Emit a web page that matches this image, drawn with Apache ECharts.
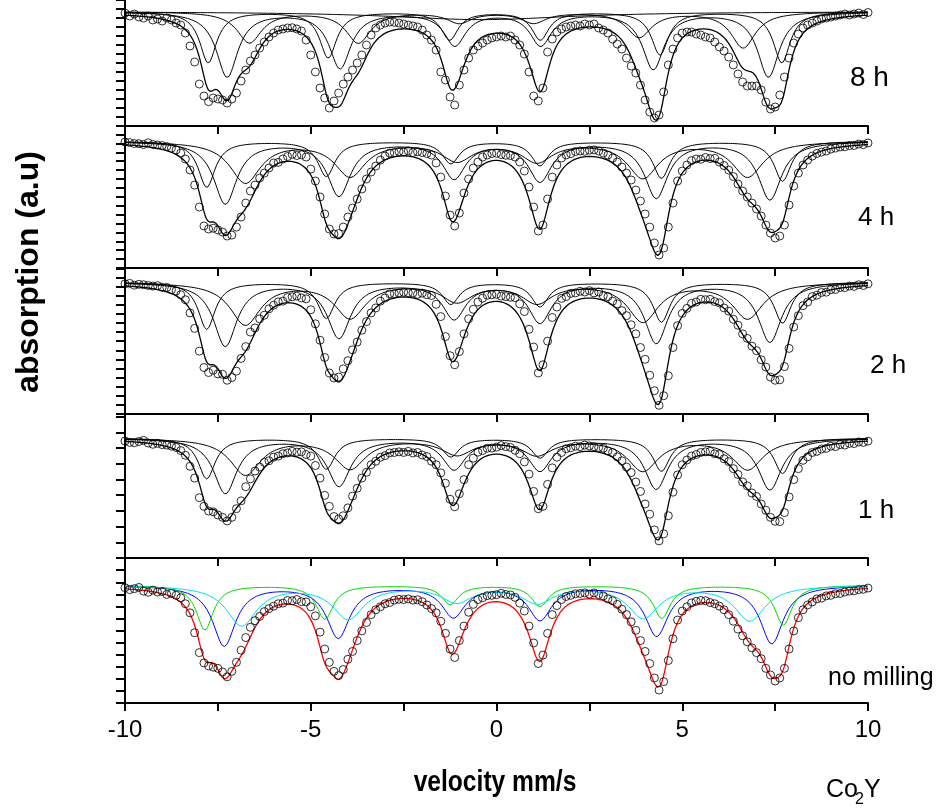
<!DOCTYPE html>
<html>
<head>
<meta charset="utf-8">
<script src="https://cdn.jsdelivr.net/npm/echarts@6/dist/echarts.min.js"></script>
<style>
  html, body { margin: 0; padding: 0; background: #fff; }
  #chart { width: 939px; height: 809px; }
</style>
</head>
<body>
<div id="chart"></div>
<script>
// Mössbauer spectra of Co2Y after different milling times.
// Velocity channels: first channel and channel spacing (mm/s).
const VELOCITY_START = -10;
const VELOCITY_STEP = 0.125;

// Relative transmission (%) per channel.
const counts8h = [
  99.83, 99.50, 99.72, 99.39, 99.28, 99.50, 99.06, 99.17, 98.94, 99.28,
  99.06, 98.72, 98.50, 97.61, 96.17, 94.39, 91.94, 90.61, 89.98, 90.39,
  90.28, 90.17, 89.83, 90.28, 90.94, 92.28, 93.50, 94.50, 95.17, 95.94,
  96.61, 97.17, 97.61, 97.94, 98.06, 98.17, 98.20, 98.06, 97.83, 96.83,
  95.17, 93.28, 91.50, 90.39, 89.28, 90.06, 90.94, 91.94, 92.72, 93.50,
  94.28, 95.17, 96.28, 97.39, 98.17, 98.50, 98.72, 98.83, 98.80, 98.72,
  98.61, 98.50, 98.39, 98.28, 97.94, 97.39, 96.83, 95.72, 93.28, 92.39,
  90.50, 89.61, 91.83, 93.50, 94.83, 95.72, 96.17, 96.50, 96.83, 97.06,
  97.17, 97.28, 97.17, 97.28, 96.83, 96.28, 95.28, 93.28, 90.61, 90.06,
  91.50, 95.50, 96.94, 97.72, 98.06, 98.28, 98.39, 98.50, 98.39, 98.61,
  98.50, 98.61, 98.17, 97.94, 97.61, 96.94, 96.39, 95.83, 94.83, 93.94,
  93.17, 91.83, 90.17, 88.83, 88.17, 88.50, 91.06, 94.06, 95.83, 97.06,
  97.61, 97.72, 97.72, 97.50, 97.39, 97.17, 97.06, 96.61, 96.06, 95.61,
  94.94, 94.06, 93.06, 92.17, 91.72, 91.72, 91.72, 91.28, 89.94, 89.17,
  89.39, 90.72, 92.72, 94.83, 96.50, 97.50, 98.17, 98.50, 98.72, 98.94,
  99.17, 99.28, 99.39, 99.50, 99.61, 99.72, 99.61, 99.72, 99.83, 99.67, 99.89
];
const counts4h = [
  99.89, 99.83, 99.72, 99.70, 99.61, 99.80, 99.61, 99.55, 99.49, 99.38,
  99.21, 98.99, 98.65, 97.98, 96.74, 95.05, 92.58, 90.45, 90.11, 90.20,
  90.00, 89.77, 89.32, 89.43, 90.33, 91.46, 93.03, 94.38, 95.05, 95.84,
  96.40, 96.97, 97.53, 97.60, 97.98, 98.26, 98.50, 98.37, 98.45, 98.20,
  96.85, 95.51, 93.71, 91.80, 90.11, 89.55, 89.60, 90.33, 91.46, 92.47,
  93.48, 94.61, 95.73, 96.52, 97.19, 97.86, 98.31, 98.65, 98.70, 98.82,
  98.76, 98.90, 98.71, 98.80, 98.71, 98.60, 98.43, 97.53, 95.95, 93.82,
  91.68, 90.45, 91.91, 94.16, 95.73, 96.97, 97.64, 98.20, 98.43, 98.60,
  98.62, 98.48, 98.40, 98.37, 98.20, 97.64, 96.63, 94.83, 92.58, 89.89,
  90.56, 93.48, 95.95, 97.30, 98.09, 98.43, 98.58, 98.82, 98.88, 98.85,
  98.98, 99.00, 98.88, 98.65, 98.43, 98.09, 97.64, 97.08, 96.40, 95.62,
  94.49, 93.26, 91.80, 90.33, 88.54, 87.19, 87.97, 90.33, 93.03, 95.51,
  96.63, 97.30, 97.80, 97.98, 97.95, 98.15, 98.03, 98.05, 97.64, 97.25,
  96.74, 96.01, 95.17, 94.38, 93.71, 93.03, 92.36, 91.57, 90.56, 89.66,
  89.10, 89.32, 90.56, 92.81, 94.94, 96.40, 97.30, 97.86, 98.31, 98.60,
  98.76, 98.88, 99.10, 99.21, 99.33, 99.35, 99.49, 99.50, 99.66, 99.60, 99.78
];
const counts2h = [
  99.80, 99.85, 99.65, 99.75, 99.70, 99.62, 99.55, 99.60, 99.42, 99.40,
  99.15, 99.02, 98.60, 98.05, 96.60, 94.90, 92.40, 90.60, 90.05, 90.30,
  89.90, 89.85, 89.20, 89.50, 90.20, 91.60, 92.90, 94.50, 94.95, 95.95,
  96.35, 97.05, 97.45, 97.82, 97.90, 98.30, 98.38, 98.45, 98.25, 98.15,
  96.95, 95.40, 93.60, 91.70, 90.00, 89.45, 89.55, 90.45, 91.35, 92.55,
  93.40, 94.70, 95.65, 96.60, 97.15, 97.90, 98.25, 98.70, 98.72, 98.80,
  98.88, 98.82, 98.80, 98.65, 98.78, 98.60, 98.52, 97.55, 96.20, 94.00,
  91.90, 90.90, 92.35, 94.30, 95.95, 97.00, 97.80, 98.22, 98.55, 98.60,
  98.65, 98.45, 98.40, 98.32, 98.28, 97.60, 96.75, 94.80, 92.85, 90.00,
  90.90, 93.50, 96.10, 97.25, 98.20, 98.40, 98.75, 98.80, 98.98, 98.90,
  99.05, 98.80, 98.90, 98.50, 98.40, 97.90, 97.60, 96.85, 96.30, 95.30,
  94.30, 92.80, 91.50, 89.75, 88.05, 86.45, 87.50, 89.70, 92.80, 95.20,
  96.55, 97.10, 97.65, 97.80, 98.10, 98.05, 98.10, 97.85, 97.70, 97.15,
  96.80, 95.90, 95.25, 94.30, 93.80, 92.95, 92.45, 91.45, 90.65, 89.55,
  89.20, 89.25, 90.70, 92.70, 95.05, 96.30, 97.40, 97.80, 98.40, 98.55,
  98.85, 98.88, 99.15, 99.18, 99.40, 99.38, 99.55, 99.52, 99.70, 99.62, 99.80
];
const counts1h = [
  99.81, 99.72, 99.70, 99.78, 99.85, 99.68, 99.60, 99.66, 99.58, 99.55,
  99.48, 99.40, 99.20, 98.90, 98.20, 97.45, 96.20, 95.65, 95.35, 95.30,
  95.10, 94.95, 94.72, 94.95, 95.50, 96.00, 96.90, 97.40, 97.90, 98.15,
  98.45, 98.55, 98.78, 98.85, 99.00, 99.05, 99.15, 99.10, 99.12, 98.95,
  98.85, 98.25, 97.45, 96.35, 95.65, 95.00, 94.85, 95.05, 95.55, 96.30,
  96.80, 97.45, 97.82, 98.30, 98.52, 98.78, 98.88, 99.05, 99.08, 99.12,
  99.08, 99.15, 99.05, 99.08, 98.92, 98.82, 98.52, 98.30, 97.78, 97.12,
  96.10, 95.62, 96.45, 97.35, 98.30, 98.72, 99.10, 99.20, 99.35, 99.36,
  99.42, 99.52, 99.45, 99.40, 99.22, 99.00, 98.48, 97.70, 96.60, 95.50,
  95.65, 97.05, 98.10, 98.78, 99.08, 99.32, 99.38, 99.48, 99.45, 99.55,
  99.50, 99.45, 99.40, 99.35, 99.18, 99.08, 98.80, 98.55, 98.15, 97.80,
  97.20, 96.60, 95.80, 95.15, 94.15, 93.45, 93.90, 95.05, 96.55, 97.65,
  98.30, 98.60, 98.85, 98.95, 99.08, 99.12, 99.15, 99.00, 98.95, 98.68,
  98.50, 98.05, 97.68, 97.20, 96.95, 96.50, 96.28, 95.80, 95.40, 94.95,
  94.70, 94.68, 95.25, 96.25, 97.35, 98.05, 98.58, 98.80, 99.08, 99.15,
  99.30, 99.34, 99.48, 99.45, 99.58, 99.55, 99.66, 99.65, 99.75, 99.72, 99.80
];
const countsNoMilling = [
  99.78, 99.62, 99.70, 99.80, 99.50, 99.40, 99.58, 99.42, 99.47, 99.22,
  99.30, 99.15, 98.95, 98.45, 97.70, 96.05, 94.40, 93.55, 93.30, 93.20,
  93.10, 92.80, 92.40, 92.85, 93.60, 94.60, 95.65, 96.50, 97.05, 97.40,
  97.80, 98.05, 98.25, 98.45, 98.50, 98.72, 98.70, 98.80, 98.62, 98.60,
  98.20, 97.45, 96.10, 94.70, 93.60, 92.85, 92.50, 93.00, 93.85, 94.50,
  95.40, 96.20, 96.90, 97.55, 97.95, 98.20, 98.45, 98.55, 98.75, 98.82,
  98.80, 98.85, 98.75, 98.78, 98.62, 98.35, 98.05, 97.70, 97.00, 96.00,
  94.70, 94.00, 95.40, 96.60, 97.75, 98.40, 98.80, 98.95, 99.12, 99.15,
  99.20, 99.32, 99.22, 99.18, 98.98, 98.50, 97.85, 96.60, 95.20, 93.50,
  94.20, 96.00, 97.55, 98.30, 98.80, 99.05, 99.15, 99.28, 99.30, 99.35,
  99.25, 99.35, 99.22, 99.10, 98.85, 98.70, 98.40, 98.00, 97.55, 96.95,
  96.25, 95.40, 94.50, 93.50, 92.30, 91.30, 92.00, 93.75, 95.55, 97.10,
  97.85, 98.20, 98.52, 98.65, 98.72, 98.70, 98.55, 98.45, 98.25, 97.95,
  97.55, 97.00, 96.35, 95.80, 95.30, 94.80, 94.40, 93.90, 93.10, 92.55,
  92.05, 92.30, 93.10, 94.70, 96.20, 97.30, 97.95, 98.35, 98.60, 98.85,
  98.92, 99.10, 99.15, 99.28, 99.30, 99.42, 99.50, 99.52, 99.62, 99.65, 99.75
];

// Fitted subspectra: line positions (mm/s), line depths (%) and line widths (FWHM, mm/s).
// 8 h: three sextets and a broad central line.
const positions8h = [
  [-7.25, -4.21, -1.12, 1.19, 4.22, 7.32],
  [-7.76, -4.53, -1.26, 1.18, 4.40, 7.68],
  [-6.65, -3.72, -1.00, 1.00, 3.84, 6.64],
  [-0.40]
];
const depths8h = [
  [7.22, 6.22, 3.67, 3.67, 6.33, 7.22],
  [5.67, 5.11, 3.11, 3.11, 4.78, 5.67],
  [3.44, 3.44, 1.20, 1.20, 2.80, 4.00],
  [0.90]
];
const widths8h = [0.70, 0.55, 0.80, 6.0];

// 4 h, 2 h, 1 h and unmilled: three sextets each (middle, outer, inner field).
const positionsMilled = [
  [-7.30, -4.24, -1.14, 1.17, 4.30, 7.36],
  [-7.80, -4.58, -1.23, 1.17, 4.44, 7.70],
  [-6.76, -3.94, -1.06, 1.09, 3.94, 6.76]
];
const depths4h = [
  [7.00, 6.06, 4.09, 4.41, 6.29, 6.53],
  [5.18, 3.96, 2.50, 2.73, 4.15, 4.50],
  [4.62, 3.85, 2.10, 2.20, 4.03, 3.94]
];
const depths2h = [
  [7.00, 6.06, 3.93, 4.33, 6.62, 6.53],
  [5.18, 3.96, 2.40, 2.68, 4.37, 4.50],
  [4.62, 3.85, 2.02, 2.16, 4.24, 3.94]
];
const depths1h = [
  [3.50, 3.01, 1.93, 2.02, 3.19, 3.26],
  [2.59, 1.97, 1.18, 1.25, 2.10, 2.25],
  [2.31, 1.91, 0.99, 1.01, 2.04, 1.97]
];
const positionsNoMilling = [
  [-7.33, -4.26, -1.16, 1.17, 4.31, 7.41],
  [-7.85, -4.62, -1.25, 1.17, 4.45, 7.72],
  [-6.86, -3.99, -1.07, 1.10, 3.95, 6.82]
];
const depthsNoMilling = [
  [5.00, 4.30, 2.57, 2.81, 4.14, 4.80],
  [3.70, 2.81, 1.57, 1.74, 2.73, 3.31],
  [3.30, 2.73, 1.32, 1.40, 2.65, 2.90]
];
const widthsSextet = [0.75, 0.55, 1.00];

const sampleLabels = ['8 h', '4 h', '2 h', '1 h', 'no milling'];

// ---------------------------------------------------------------------------
const FONT = '"Liberation Sans", Arial, Helvetica, sans-serif';

const panels = [
  { counts: counts8h, pos: positions8h, depth: depths8h, width: widths8h,
    colors: ['#000', '#000', '#000', '#000'], total: '#000',
    top: 0, height: 126, yMin: 87.28, yMax: 101.28,
    label: { x: 850, y: 78, size: 28 } },
  { counts: counts4h, pos: positionsMilled, depth: depths4h, width: widthsSextet,
    colors: ['#000', '#000', '#000'], total: '#000',
    top: 126, height: 142, yMin: 85.73, yMax: 101.69,
    label: { x: 858, y: 218, size: 26 } },
  { counts: counts2h, pos: positionsMilled, depth: depths2h, width: widthsSextet,
    colors: ['#000', '#000', '#000'], total: '#000',
    top: 268, height: 146, yMin: 85.49, yMax: 101.54,
    label: { x: 870, y: 366, size: 26 } },
  { counts: counts1h, pos: positionsMilled, depth: depths1h, width: widthsSextet,
    colors: ['#000', '#000', '#000'], total: '#000',
    top: 414, height: 144, yMin: 92.36, yMax: 101.53,
    label: { x: 858, y: 511, size: 26 } },
  { counts: countsNoMilling, pos: positionsNoMilling, depth: depthsNoMilling, width: widthsSextet,
    colors: ['#0000ff', '#00d800', '#00e0ea'], total: '#ff0000',
    top: 558, height: 145, yMin: 90.23, yMax: 102.24,
    label: { x: 828, y: 678, size: 25 } }
];

// Lorentzian absorption of one subspectrum at velocity v
function absorption(positions, depths, fwhm, v) {
  const h = fwhm / 2;
  let s = 0;
  for (let k = 0; k < positions.length; k++) {
    const t = (v - positions[k]) / h;
    s += depths[k] / (1 + t * t);
  }
  return s;
}

const fineGrid = [];
for (let v = -10; v <= 10.0001; v += 0.02) fineGrid.push(+v.toFixed(2));

const grids = [], xAxes = [], yAxes = [], series = [], graphics = [];

panels.forEach((p, i) => {
  const last = i === panels.length - 1;
  grids.push({ left: 125, right: 71, top: p.top, height: p.height });
  xAxes.push({
    gridIndex: i, type: 'value', min: -10, max: 10, interval: 2.5,
    axisLine: { show: true, onZero: false, lineStyle: { color: '#000', width: 2 } },
    axisTick: { show: true, inside: false, length: 8, lineStyle: { color: '#000', width: 2 } },
    axisLabel: {
      show: last, margin: 15, color: '#000', fontSize: 24, fontFamily: FONT,
      formatter: v => (v % 5 === 0 ? String(v) : '')
    },
    splitLine: { show: false }
  });
  yAxes.push({
    gridIndex: i, type: 'value', min: p.yMin, max: p.yMax, interval: 1,
    axisLine: { show: true, onZero: false, lineStyle: { color: '#000', width: 2 } },
    axisTick: { show: true, inside: false, length: 9, lineStyle: { color: '#000', width: 2 } },
    axisLabel: { show: false },
    splitLine: { show: false }
  });

  // subspectra
  p.pos.forEach((positions, c) => {
    series.push({
      type: 'line', xAxisIndex: i, yAxisIndex: i, showSymbol: false, silent: true,
      z: 2,
      lineStyle: { color: p.colors[c], width: 1 },
      data: fineGrid.map(v => [v, 100 - absorption(positions, p.depth[c], p.width[c], v)])
    });
  });
  // fitted envelope
  series.push({
    type: 'line', xAxisIndex: i, yAxisIndex: i, showSymbol: false, silent: true,
    z: 3,
    lineStyle: { color: p.total, width: 1.3 },
    data: fineGrid.map(v => {
      let s = 0;
      p.pos.forEach((positions, c) => { s += absorption(positions, p.depth[c], p.width[c], v); });
      return [v, 100 - s];
    })
  });
  // measured points
  series.push({
    type: 'scatter', xAxisIndex: i, yAxisIndex: i, silent: true, z: 4,
    symbol: 'circle', symbolSize: 8,
    itemStyle: { color: 'rgba(0,0,0,0)', borderColor: '#000', borderWidth: 1 },
    data: p.counts.map((y, k) => [VELOCITY_START + k * VELOCITY_STEP, y])
  });

  graphics.push({
    type: 'text', x: p.label.x, y: p.label.y,
    style: { text: sampleLabels[i], font: p.label.size + 'px ' + FONT, fill: '#000',
             textVerticalAlign: 'middle' }
  });
});

graphics.push({
  type: 'text', x: 29, y: 272, rotation: Math.PI / 2,
  style: { text: 'absorption (a.u)', font: 'bold 32px ' + FONT, fill: '#000',
           textAlign: 'center', textVerticalAlign: 'middle' }
});
// condensed bold axis title
graphics.push({
  type: 'text', x: 495, y: 783, scaleX: 0.82, originX: 0, originY: 0,
  style: { text: 'velocity mm/s', font: 'bold 30px ' + FONT, fill: '#000',
           textAlign: 'center', textVerticalAlign: 'middle' }
});
graphics.push({
  type: 'text', x: 826, y: 790,
  style: { text: 'Co', font: '25px ' + FONT, fill: '#000', textVerticalAlign: 'middle' }
});
graphics.push({
  type: 'text', x: 855, y: 800,
  style: { text: '2', font: '16px ' + FONT, fill: '#000', textVerticalAlign: 'middle' }
});
graphics.push({
  type: 'text', x: 864, y: 790,
  style: { text: 'Y', font: '25px ' + FONT, fill: '#000', textVerticalAlign: 'middle' }
});

const chart = echarts.init(document.getElementById('chart'), null, { renderer: 'canvas' });
chart.setOption({
  animation: false,
  backgroundColor: '#fff',
  grid: grids,
  xAxis: xAxes,
  yAxis: yAxes,
  series: series,
  graphic: graphics
});
</script>
</body>
</html>
